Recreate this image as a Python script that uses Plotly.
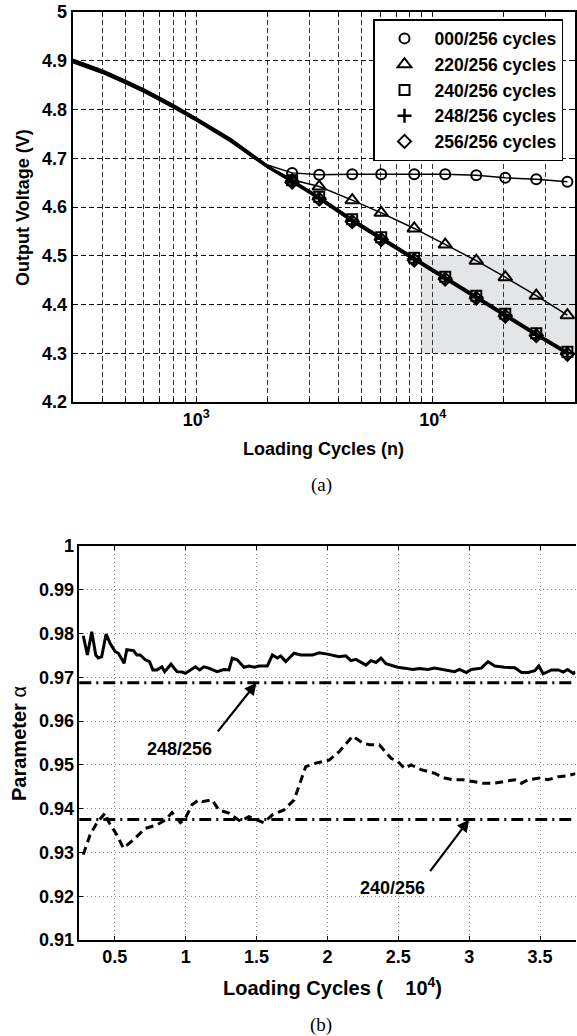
import math
import plotly.graph_objects as go

# ---------------- data: chart (a) ----------------
pre_cycles = [300, 400, 500, 600, 800, 1000, 1400, 2000]
marker_cycles = [2544, 3311, 4566, 6057, 8356, 11300, 15290, 20280, 27430, 37150]

series_names = ["000/256 cycles", "220/256 cycles", "240/256 cycles",
                "248/256 cycles", "256/256 cycles"]

pre_000 = [4.903, 4.881, 4.860, 4.842, 4.810, 4.783, 4.740, 4.686]
pre_220 = [4.902, 4.880, 4.859, 4.841, 4.809, 4.782, 4.739, 4.685]
pre_240 = [4.900, 4.878, 4.857, 4.839, 4.807, 4.780, 4.737, 4.683]
pre_248 = [4.898, 4.876, 4.855, 4.837, 4.805, 4.778, 4.735, 4.682]
pre_256 = [4.897, 4.875, 4.854, 4.836, 4.804, 4.777, 4.734, 4.681]

v_000 = [4.670, 4.666, 4.667, 4.667, 4.667, 4.667, 4.665, 4.660, 4.657, 4.652]
v_220 = [4.656, 4.642, 4.614, 4.588, 4.556, 4.523, 4.490, 4.456, 4.418, 4.378]
v_240 = [4.655, 4.621, 4.575, 4.538, 4.496, 4.457, 4.418, 4.381, 4.341, 4.303]
v_248 = [4.653, 4.618, 4.572, 4.535, 4.493, 4.454, 4.415, 4.378, 4.338, 4.300]
v_256 = [4.651, 4.616, 4.570, 4.533, 4.491, 4.452, 4.413, 4.376, 4.336, 4.298]

shade_x = [8900, 40000]
shade_y = [4.3, 4.5]

top_x_range = [300, 40000]
top_y_ticks = [4.2, 4.3, 4.4, 4.5, 4.6, 4.7, 4.8, 4.9, 5.0]
top_y_labels = ["4.2", "4.3", "4.4", "4.5", "4.6", "4.7", "4.8", "4.9", "5"]
top_x_grid = [300, 400, 500, 600, 700, 800, 900, 1000, 2000, 3000, 4000, 5000,
              6000, 7000, 8000, 9000, 10000, 20000, 30000, 40000]
top_x_major = {1000: "10<sup>3</sup>", 10000: "10<sup>4</sup>"}

# ---------------- data: chart (b) ----------------
solid_x = [0.278, 0.307, 0.338, 0.366, 0.384, 0.408, 0.439, 0.467, 0.503, 0.526,
           0.566, 0.585, 0.632, 0.656, 0.680, 0.715, 0.745, 0.769, 0.798, 0.833,
           0.852, 0.897, 0.939, 0.975, 0.998, 1.033, 1.069, 1.099, 1.128, 1.163,
           1.222, 1.269, 1.305, 1.329, 1.364, 1.411, 1.446, 1.486, 1.517, 1.576,
           1.612, 1.647, 1.670, 1.706, 1.729, 1.765, 1.812, 1.895, 1.941, 2.001,
           2.083, 2.130, 2.166, 2.201, 2.272, 2.307, 2.343, 2.378, 2.413, 2.449,
           2.496, 2.543, 2.602, 2.649, 2.709, 2.755, 2.826, 2.897, 2.932, 2.980,
           3.015, 3.086, 3.133, 3.180, 3.251, 3.322, 3.369, 3.416, 3.463, 3.491,
           3.522, 3.581, 3.629, 3.664, 3.694, 3.735, 3.750]
solid_y = [0.9795, 0.9751, 0.9804, 0.9751, 0.9744, 0.9747, 0.9799, 0.9778, 0.9759, 0.9755,
           0.9732, 0.9763, 0.9761, 0.9751, 0.9751, 0.9740, 0.9736, 0.9717, 0.9717, 0.9724,
           0.9713, 0.9730, 0.9713, 0.9712, 0.9709, 0.9717, 0.9724, 0.9717, 0.9724, 0.9721,
           0.9713, 0.9718, 0.9717, 0.9744, 0.9740, 0.9723, 0.9726, 0.9723, 0.9726, 0.9726,
           0.9751, 0.9744, 0.9749, 0.9736, 0.9744, 0.9755, 0.9751, 0.9751, 0.9756, 0.9753,
           0.9747, 0.9749, 0.9738, 0.9741, 0.9728, 0.9738, 0.9734, 0.9744, 0.9731, 0.9728,
           0.9723, 0.9721, 0.9718, 0.9720, 0.9718, 0.9721, 0.9717, 0.9713, 0.9718, 0.9711,
           0.9718, 0.9721, 0.9736, 0.9726, 0.9723, 0.9722, 0.9711, 0.9711, 0.9715, 0.9726,
           0.9708, 0.9717, 0.9717, 0.9712, 0.9718, 0.9709, 0.9712]

dash_x = [0.278, 0.326, 0.373, 0.432, 0.455, 0.515, 0.561, 0.632, 0.715, 0.798,
          0.857, 0.904, 0.963, 0.998, 1.045, 1.092, 1.116, 1.187, 1.234, 1.305,
          1.387, 1.446, 1.505, 1.552, 1.612, 1.694, 1.765, 1.812, 1.847, 1.918,
          2.012, 2.083, 2.178, 2.249, 2.296, 2.366, 2.449, 2.496, 2.543, 2.590,
          2.661, 2.755, 2.826, 2.886, 2.956, 3.027, 3.098, 3.169, 3.239, 3.322,
          3.369, 3.416, 3.498, 3.557, 3.629, 3.688, 3.750]
dash_y = [0.9295, 0.9340, 0.9367, 0.9390, 0.9371, 0.9340, 0.9310, 0.9329, 0.9355, 0.9363,
          0.9374, 0.9391, 0.9368, 0.9378, 0.9409, 0.9420, 0.9416, 0.9420, 0.9397, 0.9390,
          0.9371, 0.9382, 0.9374, 0.9368, 0.9386, 0.9397, 0.9420, 0.9466, 0.9496, 0.9504,
          0.9511, 0.9530, 0.9566, 0.9550, 0.9546, 0.9546, 0.9515, 0.9508, 0.9492, 0.9500,
          0.9489, 0.9481, 0.9470, 0.9466, 0.9466, 0.9462, 0.9458, 0.9458, 0.9462, 0.9466,
          0.9458, 0.9466, 0.9470, 0.9466, 0.9473, 0.9475, 0.9480]

ref_levels = [248 / 256, 240 / 256]
ref_labels = ["248/256", "240/256"]
arrow_heads = [(1.5, 248 / 256), (3.0, 240 / 256)]
arrow_tails = [(1.219, 0.9573), (2.717, 0.9254)]
label_pos = [(0.96, 0.9537), (2.457, 0.9219)]

bot_x_range = [0.25, 3.75]
bot_y_range = [0.91, 1.0]
bot_x_ticks = [0.5, 1.0, 1.5, 2.0, 2.5, 3.0, 3.5]
bot_x_labels = ["0.5", "1", "1.5", "2", "2.5", "3", "3.5"]
bot_y_ticks = [0.91, 0.92, 0.93, 0.94, 0.95, 0.96, 0.97, 0.98, 0.99, 1.0]
bot_y_labels = ["0.91", "0.92", "0.93", "0.94", "0.95", "0.96", "0.97", "0.98", "0.99", "1"]

# ---------------- figure ----------------
W, H = 577, 1036
FONT = "Liberation Sans, Arial, sans-serif"
fig = go.Figure()

pre_vals = [pre_000, pre_220, pre_240, pre_248, pre_256]
mk_vals = [v_000, v_220, v_240, v_248, v_256]
symbols = ["circle-open", "triangle-up-open", "square-open", "cross-thin-open", "diamond-open"]
sizes = [10, 12, 10, 10, 10]
lwidths = [1.5, 1.5, 2.0, 2.0, 2.0]

for name, pv, mv, lw in zip(series_names, pre_vals, mk_vals, lwidths):
    fig.add_trace(go.Scatter(x=pre_cycles + marker_cycles, y=pv + mv, mode="lines",
                             line=dict(color="black", width=lw), showlegend=False,
                             xaxis="x", yaxis="y", hoverinfo="skip"))
for name, mv, sym, sz in zip(series_names, mk_vals, symbols, sizes):
    fig.add_trace(go.Scatter(x=marker_cycles, y=mv, mode="markers", name=name,
                             marker=dict(symbol=sym, size=sz, color="black",
                                         line=dict(color="black", width=2 if "cross" not in sym else 2.5)),
                             xaxis="x", yaxis="y"))

# chart (b) traces
fig.add_trace(go.Scatter(x=solid_x, y=solid_y, mode="lines", showlegend=False,
                         line=dict(color="black", width=3), xaxis="x2", yaxis="y2"))
fig.add_trace(go.Scatter(x=dash_x, y=dash_y, mode="lines", showlegend=False,
                         line=dict(color="black", width=3, dash="8px,5px"),
                         xaxis="x2", yaxis="y2"))

shapes = [dict(type="rect", xref="x", yref="y", x0=shade_x[0], x1=shade_x[1],
               y0=shade_y[0], y1=shade_y[1], fillcolor="#e4e5e7",
               line=dict(width=0), layer="below")]
for lvl in ref_levels:
    shapes.append(dict(type="line", xref="x2 domain", yref="y2", x0=0, x1=1, y0=lvl, y1=lvl,
                       line=dict(color="black", width=3, dash="12px,5px,2px,5px"), layer="above"))

annotations = []
for (hx, hy), (tx, ty) in zip(arrow_heads, arrow_tails):
    annotations.append(dict(x=hx, y=hy, ax=tx, ay=ty, xref="x2", yref="y2",
                            axref="x2", ayref="y2", text="", showarrow=True,
                            arrowhead=2, arrowsize=1.1, arrowwidth=2.2, arrowcolor="black",
                            standoff=0, startstandoff=0))
for (lx, ly), txt in zip(label_pos, ref_labels):
    annotations.append(dict(x=lx, y=ly, xref="x2", yref="y2", text=txt, showarrow=False,
                            font=dict(family=FONT, size=18, color="black", weight="bold")))


def pa(px, py, text, size, angle=0, family=FONT, weight="bold"):
    annotations.append(dict(x=px / W, y=1 - py / H, xref="paper", yref="paper", text=text,
                            showarrow=False, textangle=angle, xanchor="center", yanchor="middle",
                            font=dict(family=family, size=size, color="black", weight=weight)))


pa(23, 208, "Output Voltage (V)", 18, angle=-90)
pa(323, 449, "Loading Cycles (n)", 18)
pa(321, 485, "(a)", 19, family="Liberation Serif, Times New Roman, serif", weight="normal")
pa(19, 744, "<b>Parameter</b> α", 20, angle=-90, weight="normal")
pa(332, 986, "Loading Cycles (\u00a0\u00a0\u00a0\u00a010<sup>4</sup>)", 20)
pa(321, 1025, "(b)", 19, family="Liberation Serif, Times New Roman, serif", weight="normal")

tick_font = dict(family=FONT, size=18, color="black", weight="bold")

fig.update_layout(
    template="none",
    width=W, height=H, autosize=False,
    margin=dict(l=0, r=0, t=0, b=0, pad=0),
    paper_bgcolor="white", plot_bgcolor="white",
    shapes=shapes, annotations=annotations,
    legend=dict(x=563 / W, y=1 - 19 / H, xanchor="right", yanchor="top",
                bgcolor="white", bordercolor="black", borderwidth=1.5,
                font=dict(family=FONT, size=17.5, color="black", weight="bold"),
                itemwidth=50, tracegroupgap=0),
    xaxis=dict(domain=[72.7 / W, 575 / W], anchor="y", type="log", automargin=False,
               range=[math.log10(top_x_range[0]), math.log10(top_x_range[1])],
               tickmode="array", tickvals=top_x_grid,
               ticktext=[top_x_major.get(v, "") for v in top_x_grid],
               tickfont=tick_font, showgrid=True, gridcolor="#333", gridwidth=1,
               griddash="5px,3px", showline=True, linecolor="black", linewidth=2,
               mirror="ticks", ticks="inside", ticklen=4, tickcolor="black", zeroline=False),
    yaxis=dict(domain=[1 - 402 / H, 1 - 12 / H], anchor="x", range=[4.2, 5.0], automargin=False,
               tickmode="array", tickvals=top_y_ticks, ticktext=top_y_labels,
               tickfont=tick_font, showgrid=True, gridcolor="#111", gridwidth=1,
               griddash="5px,3px", showline=True, linecolor="black", linewidth=2,
               mirror="ticks", ticks="inside", ticklen=4, tickcolor="black", zeroline=False),
    xaxis2=dict(domain=[79.3 / W, 575.5 / W], anchor="y2", range=bot_x_range, automargin=False,
                tickmode="array", tickvals=bot_x_ticks, ticktext=bot_x_labels,
                tickfont=tick_font, showgrid=True, gridcolor="#888", gridwidth=1,
                griddash="1px,3px", showline=True, linecolor="black", linewidth=1.5,
                mirror="ticks", ticks="inside", ticklen=4, tickcolor="black", zeroline=False),
    yaxis2=dict(domain=[1 - 940 / H, 1 - 546 / H], anchor="x2", range=bot_y_range, automargin=False,
                tickmode="array", tickvals=bot_y_ticks, ticktext=bot_y_labels,
                tickfont=tick_font, showgrid=True, gridcolor="#888", gridwidth=1,
                griddash="1px,3px", showline=True, linecolor="black", linewidth=1.5,
                mirror=False, ticks="inside", ticklen=4, tickcolor="black", zeroline=False),
)

fig.write_html("out.html")
